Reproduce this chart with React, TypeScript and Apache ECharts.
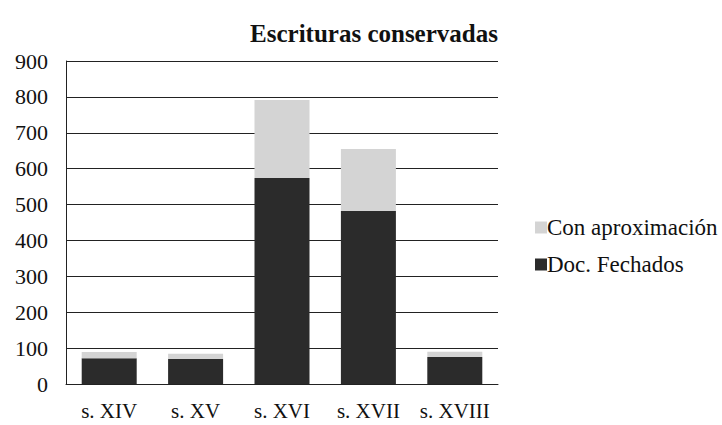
import React, { useEffect, useRef } from "react";
import * as echarts from "echarts";

const categories = ["s. XIV", "s. XV", "s. XVI", "s. XVII", "s. XVIII"];
const fechados = [72, 70, 574, 482, 75];
const aproximacion = [17, 14, 217, 173, 15];
const seriesNames = ["Con aproximación", "Doc. Fechados"];

const FONT = "'Liberation Serif', 'Times New Roman', serif";

export default function App() {
  const ref = useRef<HTMLDivElement>(null);
  useEffect(() => {
    document.body.style.margin = "0";
    const chart = echarts.init(ref.current!, null, { renderer: "svg" });
    chart.setOption({
      animation: false,
      backgroundColor: "#ffffff",
      title: {
        text: "Escrituras conservadas",
        left: 369,
        top: 16,
        textAlign: "center",
        textStyle: { fontFamily: FONT, fontSize: 25, fontWeight: "bold", color: "#111" },
      },
      legend: {
        orient: "vertical",
        left: 530,
        top: 211,
        itemWidth: 12,
        itemHeight: 12,
        itemGap: 14,
        data: seriesNames,
        icon: "rect",
        textStyle: { fontFamily: FONT, fontSize: 23, color: "#111", padding: [0, 0, 0, -5] },
      },
      grid: { left: 66, right: 224, top: 61, bottom: 41 },
      xAxis: {
        type: "category",
        data: categories,
        axisLine: { show: true, lineStyle: { color: "#222", width: 1 } },
        axisTick: { show: false },
        axisLabel: { fontFamily: FONT, fontSize: 21, color: "#111", margin: 16, interval: 0 },
      },
      yAxis: {
        type: "value",
        min: 0,
        max: 900,
        interval: 100,
        axisLine: { show: true, lineStyle: { color: "#222", width: 1 } },
        axisTick: { show: false },
        splitLine: { lineStyle: { color: "#222", width: 1 } },
        axisLabel: { fontFamily: FONT, fontSize: 22, color: "#111", margin: 18 },
      },
      series: [
        {
          name: "Doc. Fechados",
          type: "bar",
          stack: "total",
          data: fechados,
          barWidth: 55,
          itemStyle: { color: "#2b2b2b" },
        },
        {
          name: "Con aproximación",
          type: "bar",
          stack: "total",
          data: aproximacion,
          barWidth: 55,
          itemStyle: { color: "#d4d4d4" },
        },
      ],
    });
    return () => chart.dispose();
  }, []);
  return <div ref={ref} style={{ width: 722, height: 425 }} />;
}
